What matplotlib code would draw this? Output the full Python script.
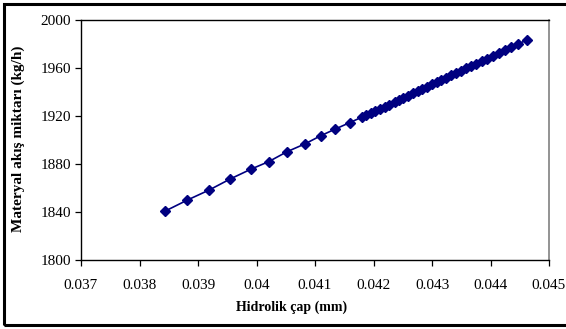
import numpy as np
import matplotlib.pyplot as plt
from matplotlib.patches import Rectangle

# Data
hid_cap = [0.03844, 0.03882, 0.03919, 0.03955, 0.03991, 0.04021,
           0.04052, 0.04083, 0.04110, 0.04135, 0.04159,
           0.04180, 0.04188, 0.04196, 0.04203, 0.04211, 0.04219, 0.04226,
           0.04236, 0.04244, 0.04251, 0.04259, 0.04268, 0.04276, 0.04283,
           0.04291, 0.04300, 0.04308, 0.04316, 0.04324, 0.04333, 0.04341,
           0.04350, 0.04358, 0.04367, 0.04376, 0.04385, 0.04394, 0.04404,
           0.04414, 0.04424, 0.04435, 0.04447, 0.04463]
akis = [1840.8, 1850.0, 1858.3, 1867.5, 1875.8, 1882.0,
        1890.2, 1896.8, 1903.6, 1909.2, 1914.4,
        1919.0, 1920.8, 1922.7, 1924.3, 1926.1, 1927.9, 1929.5,
        1931.8, 1933.6, 1935.2, 1937.0, 1939.1, 1940.9, 1942.5,
        1944.3, 1946.4, 1948.2, 1950.0, 1951.8, 1953.9, 1955.7,
        1957.8, 1959.6, 1961.6, 1963.7, 1965.7, 1967.8, 1970.1,
        1972.3, 1974.6, 1977.1, 1979.9, 1983.6]

x_ticks = [0.037, 0.038, 0.039, 0.04, 0.041, 0.042, 0.043, 0.044, 0.045]
x_tick_labels = ['0.037', '0.038', '0.039', '0.04', '0.041', '0.042', '0.043', '0.044', '0.045']
y_ticks = [1800, 1840, 1880, 1920, 1960, 2000]

plt.rcParams['font.family'] = ['Liberation Serif', 'DejaVu Serif']

fig = plt.figure(figsize=(5.66, 3.29), dpi=100)
ax = fig.add_axes([81/566, 69/329, 468/566, 240/329])

ax.plot(hid_cap, akis, color='#000080', marker='D', markersize=5, linewidth=1.2)

ax.set_xlim(0.037, 0.045)
ax.set_ylim(1800, 2000)
ax.set_xticks(x_ticks)
ax.set_xticklabels(x_tick_labels)
ax.set_yticks(y_ticks)
ax.tick_params(axis='both', labelsize=11, direction='out', length=4, width=0.9)
ax.tick_params(axis='x', pad=10)
ax.tick_params(axis='y', pad=3)

ax.spines['left'].set_linewidth(1.0)
ax.spines['bottom'].set_linewidth(1.0)
ax.spines['top'].set_linewidth(1.0)
ax.spines['right'].set_color('#808080')
ax.spines['right'].set_linewidth(1.2)

# axis titles, placed as in the reference
fig.text(292/566, 1 - 307/329, 'Hidrolik çap (mm)', fontsize=10, fontweight='bold',
         ha='center', va='center')
fig.text(18/566, 1 - 139/329, 'Materyal akış miktarı (kg/h)', fontsize=11, fontweight='bold',
         ha='center', va='center', rotation=90)

# outer frame around the chart (right side runs off the image)
fig.patches.append(Rectangle((4/566, 4/329), 600/566, 321/329, transform=fig.transFigure,
                             fill=False, edgecolor='black', linewidth=2.2, clip_on=False))

fig.savefig('out.png', dpi=100)
